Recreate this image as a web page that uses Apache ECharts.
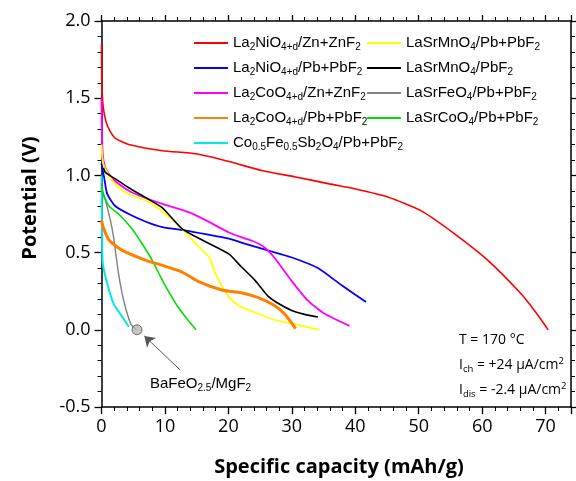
<!DOCTYPE html>
<html>
<head>
<meta charset="utf-8">
<script src="https://cdn.jsdelivr.net/npm/echarts@6/dist/echarts.min.js"></script>
<style>html,body{margin:0;padding:0;background:#fff;}#c{width:576px;height:481px;}</style>
</head>
<body>
<div id="c"></div>
<script>
// ---- data (x: specific capacity mAh/g, y: potential V) ----
const la2NiO4_Zn = [[0,1.85],[0.05,1.6],[0.25,1.45],[0.7,1.35],[1.3,1.29],[2.2,1.24],[4.3,1.20],[9.6,1.16],[14.9,1.14],[20.1,1.09],[25.4,1.03],[30.6,0.99],[35.9,0.945],[39.9,0.913],[45.1,0.86],[50.4,0.77],[55.7,0.62],[60.9,0.45],[66.2,0.23],[68.5,0.11],[70.4,0.0]];
const la2NiO4_Pb = [[0,1.08],[0.2,1.03],[0.4,0.99],[0.9,0.88],[2.2,0.80],[4.3,0.75],[7.0,0.70],[9.6,0.665],[13.3,0.643],[16.4,0.62],[20.1,0.59],[22.7,0.557],[26.2,0.514],[29.9,0.47],[34.1,0.40],[37.8,0.29],[41.7,0.18]];
const la2CoO4_Zn = [[0,1.5],[0.05,1.3],[0.2,1.14],[0.6,1.05],[1.7,0.98],[4.3,0.90],[5.9,0.87],[9.6,0.815],[13.8,0.76],[16.4,0.71],[20.1,0.63],[22.0,0.60],[23.8,0.575],[25.5,0.54],[27.2,0.47],[29.9,0.32],[32.5,0.19],[35.1,0.105],[39.1,0.025]];
const la2CoO4_Pb = [[0,0.71],[0.3,0.66],[1.2,0.58],[3.3,0.514],[7.0,0.45],[9.6,0.417],[12.7,0.374],[15.4,0.31],[19.1,0.256],[22.0,0.24],[24.6,0.21],[27.2,0.159],[28.8,0.105],[30.6,0.008]];
const coFeSb2O4_Pb = [[0,1.0],[0.1,0.6],[0.2,0.43],[0.9,0.30],[1.9,0.17],[3.0,0.10],[4.3,0.02]];
const laSrMnO4_Pb = [[0,1.2],[0.3,1.07],[1.7,0.966],[3.3,0.90],[4.8,0.87],[7.5,0.826],[10.1,0.75],[12.7,0.654],[15.4,0.535],[17.0,0.47],[18.0,0.36],[20.1,0.21],[22.0,0.148],[23.3,0.127],[27.2,0.065],[30.0,0.04],[34.3,0.0]];
const laSrMnO4_PbF2 = [[0.3,1.05],[0.6,1.02],[2.2,0.977],[4.3,0.92],[7.0,0.855],[9.6,0.79],[12.7,0.654],[16.4,0.57],[20.1,0.49],[22.0,0.41],[24.2,0.32],[26.2,0.22],[27.5,0.18],[29.9,0.127],[32.0,0.10],[34.1,0.083]];
const laSrFeO4_Pb = [[0,0.95],[0.2,0.88],[0.6,0.84],[1.4,0.71],[1.9,0.60],[2.7,0.36],[3.5,0.19],[4.6,0.04],[5.5,0.0]];
const laSrCoO4_Pb = [[0,0.93],[0.4,0.87],[1.2,0.80],[2.7,0.75],[4.8,0.654],[6.4,0.557],[8.0,0.45],[9.6,0.32],[11.7,0.17],[13.3,0.08],[14.9,0.0]];
const baFeO25_point = [[5.6,0.0]];
const arrowFrom = [12.4,-0.26];
const arrowTo = [6.75,-0.04];

const seriesNames = ['La2NiO4+d/Zn+ZnF2','La2NiO4+d/Pb+PbF2','La2CoO4+d/Zn+ZnF2','La2CoO4+d/Pb+PbF2','Co0.5Fe0.5Sb2O4/Pb+PbF2','LaSrMnO4/Pb+PbF2','LaSrMnO4/PbF2','LaSrFeO4/Pb+PbF2','LaSrCoO4/Pb+PbF2'];
const legendLabels = ['La{s|2}NiO{s|4+d}/Zn+ZnF{s|2}','La{s|2}NiO{s|4+d}/Pb+PbF{s|2}','La{s|2}CoO{s|4+d}/Zn+ZnF{s|2}','La{s|2}CoO{s|4+d}/Pb+PbF{s|2}','Co{s|0.5}Fe{s|0.5}Sb{s|2}O{s|4}/Pb+PbF{s|2}','LaSrMnO{s|4}/Pb+PbF{s|2}','LaSrMnO{s|4}/PbF{s|2}','LaSrFeO{s|4}/Pb+PbF{s|2}','LaSrCoO{s|4}/Pb+PbF{s|2}'];
const seriesData = [la2NiO4_Zn,la2NiO4_Pb,la2CoO4_Zn,la2CoO4_Pb,coFeSb2O4_Pb,laSrMnO4_Pb,laSrMnO4_PbF2,laSrFeO4_Pb,laSrCoO4_Pb];
const xTicks = [0,10,20,30,40,50,60,70];
const yTicks = [-0.5,0.0,0.5,1.0,1.5,2.0];

// ---- styles ----
const colors = ['#ff0000','#0000ff','#ff00ff','#ff8000','#00e8e8','#ffff00','#000000','#808080','#00e000'];
const widths = [1.6,1.8,1.8,3,2,1.8,1.6,1.4,1.6];

const chart = echarts.init(document.getElementById('c'), null, {renderer:'canvas'});
const labelMap = {};
seriesNames.forEach((n,i)=>labelMap[n]=legendLabels[i]);
const legRich = {
  s:{fontSize:10,fontFamily:'Liberation Sans',color:'#000',lineHeight:10,padding:[9,0,0,0],verticalAlign:'bottom'}
};
const annRich = {
  s:{fontSize:9.5,fontFamily:'Open Sans',color:'#000',lineHeight:10,padding:[9,0,0,0],verticalAlign:'bottom'},
  p:{fontSize:9.5,fontFamily:'Open Sans',color:'#000',lineHeight:10,padding:[0,0,9,0],verticalAlign:'top'}
};
const legendBase = {
  orient:'vertical', top:33, itemWidth:34, itemHeight:2, itemGap:6, padding:0,
  icon:'rect', selectedMode:false,
  textStyle:{fontFamily:'Liberation Sans',fontSize:15,color:'#000',lineHeight:18,rich:legRich},
  formatter:(n)=>labelMap[n]
};
const axisCommon = {
  axisLine:{show:true,onZero:false,lineStyle:{color:'#000',width:1.5}},
  splitLine:{show:false},
  minorSplitLine:{show:false}
};
const series = seriesData.map((d,i)=>({
  name:seriesNames[i], type:'line', data:d, symbol:'none',
  smooth:0.2,
  lineStyle:{color:colors[i],width:widths[i]}, itemStyle:{color:colors[i]},
  z: i===3 ? 3 : 2
}));
series.push({
  name:'BaFeO2.5/MgF2', type:'scatter', data:baFeO25_point, symbol:'circle', symbolSize:10,
  itemStyle:{color:'#b8b8b8',borderColor:'#555',borderWidth:1}, z:5,
  markLine:{silent:true, animation:false, symbol:['none','arrow'], symbolSize:10,
    label:{show:false}, lineStyle:{color:'#555',width:1,type:'solid'},
    emphasis:{disabled:true},
    data:[[{coord:arrowFrom},{coord:arrowTo,itemStyle:{color:'#000'}}]]}
});

chart.setOption({
  animation:false,
  backgroundColor:'#fff',
  grid:{left:101.5,right:5,top:21,bottom:74,containLabel:false},
  xAxis:[
    Object.assign({type:'value',position:'bottom',min:0,max:74,interval:10,
      axisTick:{show:true,inside:false,length:7,lineStyle:{color:'#000',width:1.3}},
      minorTick:{show:true,splitNumber:5,length:4,lineStyle:{color:'#000',width:1}},
      axisLabel:{show:true,fontFamily:'Open Sans',fontSize:18,color:'#000',margin:11,
        formatter:(v)=>xTicks.indexOf(v)>=0?String(v):''}},axisCommon),
    Object.assign({type:'value',position:'top',min:0,max:74,interval:10,
      axisTick:{show:true,inside:false,length:6,lineStyle:{color:'#000',width:1.3}},
      minorTick:{show:true,splitNumber:5,length:4,lineStyle:{color:'#000',width:1}},
      axisLabel:{show:false}},axisCommon)
  ],
  yAxis:[
    Object.assign({type:'value',position:'left',min:-0.5,max:2.0,interval:0.5,
      axisTick:{show:true,inside:false,length:7,lineStyle:{color:'#000',width:1.3}},
      minorTick:{show:true,splitNumber:5,length:4,lineStyle:{color:'#000',width:1}},
      axisLabel:{show:true,fontFamily:'Open Sans',fontSize:18,color:'#000',margin:11,
        formatter:(v)=>{const t=yTicks.find(k=>Math.abs(k-v)<1e-9);return t===undefined?'':t.toFixed(1);}}},axisCommon),
    Object.assign({type:'value',position:'right',min:-0.5,max:2.0,interval:0.5,
      axisTick:{show:true,inside:false,length:6,lineStyle:{color:'#000',width:1.3}},
      minorTick:{show:true,splitNumber:5,length:4,lineStyle:{color:'#000',width:1}},
      axisLabel:{show:false}},axisCommon)
  ],
  legend:[
    Object.assign({left:194,data:seriesNames.slice(0,5)},legendBase),
    Object.assign({left:367,data:seriesNames.slice(5)},legendBase)
  ],
  graphic:[
    {type:'text',x:30,y:198,rotation:Math.PI/2,style:{text:'Potential (V)',font:'bold 20px "Open Sans"',fill:'#000',align:'center',verticalAlign:'middle'}},
    {type:'text',x:339,y:467,style:{text:'Specific capacity (mAh/g)',font:'bold 20px "Open Sans"',fill:'#000',align:'center',verticalAlign:'middle'}},
    {type:'text',x:459,y:340,style:{text:'T = 170 °C',font:'14px "Open Sans"',fill:'#000',align:'left',verticalAlign:'middle'}},
    {type:'text',x:459,y:365,style:{text:'I{s|ch} = +24 μA/cm{p|2}',font:'14px "Open Sans"',fill:'#000',align:'left',verticalAlign:'middle',lineHeight:18,rich:annRich}},
    {type:'text',x:459,y:390,style:{text:'I{s|dis} = -2.4 μA/cm{p|2}',font:'14px "Open Sans"',fill:'#000',align:'left',verticalAlign:'middle',lineHeight:18,rich:annRich}},
    {type:'text',x:150,y:384,style:{text:'BaFeO{s|2.5}/MgF{s|2}',font:'15px "Liberation Sans"',fill:'#000',align:'left',verticalAlign:'middle',lineHeight:18,rich:legRich}}
  ],
  series:series
});
</script>
</body>
</html>
